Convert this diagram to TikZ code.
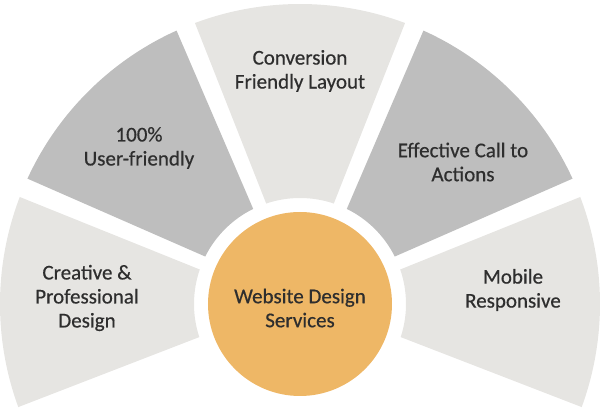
\documentclass[tikz,border=0pt]{standalone}
\usepackage{fontspec}
\setmainfont{Carlito}
\newfontfamily\labelfont{Carlito}[FakeBold=0.5]
\definecolor{seglight}{HTML}{E6E5E2}
\definecolor{segdark}{HTML}{BEBEBE}
\definecolor{hub}{HTML}{EEB766}
\definecolor{txt}{HTML}{2E2E2E}
\begin{document}
\begin{tikzpicture}[x=1pt,y=1pt,
  lbl/.style={align=center,text=txt,font=\labelfont\fontsize{21}{24}\selectfont,inner sep=0pt},
  ]
\useasboundingbox (-300,-110) rectangle (300,304);
\def\ro{300}\def\ri{106}\def\dout{1.9}\def\din{3.8}
% segment macro: #1 start angle, #2 end angle, #3 colour
\newcommand{\fanseg}[3]{%
  \fill[#3] ({#1+\dout}:\ro) arc[start angle={#1+\dout}, end angle={#2-\dout}, radius=\ro]
    -- ({#2-\din}:\ri) arc[start angle={#2-\din}, end angle={#1+\din}, radius=\ri] -- cycle;}
\fanseg{157.2}{202}{seglight}
\fanseg{112.4}{157.2}{segdark}
\fanseg{67.6}{112.4}{seglight}
\fanseg{22.8}{67.6}{segdark}
\fanseg{-22}{22.8}{seglight}
\node[circle,fill=hub,minimum size=184pt,inner sep=0pt] (hubc) at (0,0) {};
\node[lbl] (hubt) at (0,-4) {Website Design\\Services};
\node[lbl] (s1) at (-213,6) {Creative \&\\Professional\\Design};
\node[lbl] (s2) at (-161,156) {100\%\\User-friendly};
\node[lbl] (s3) at (0,233) {Conversion\\Friendly Layout};
\node[lbl] (s4) at (163,142) {Effective Call to\\Actions};
\node[lbl] (s5) at (213,14) {Mobile\\Responsive};
\end{tikzpicture}
\end{document}
